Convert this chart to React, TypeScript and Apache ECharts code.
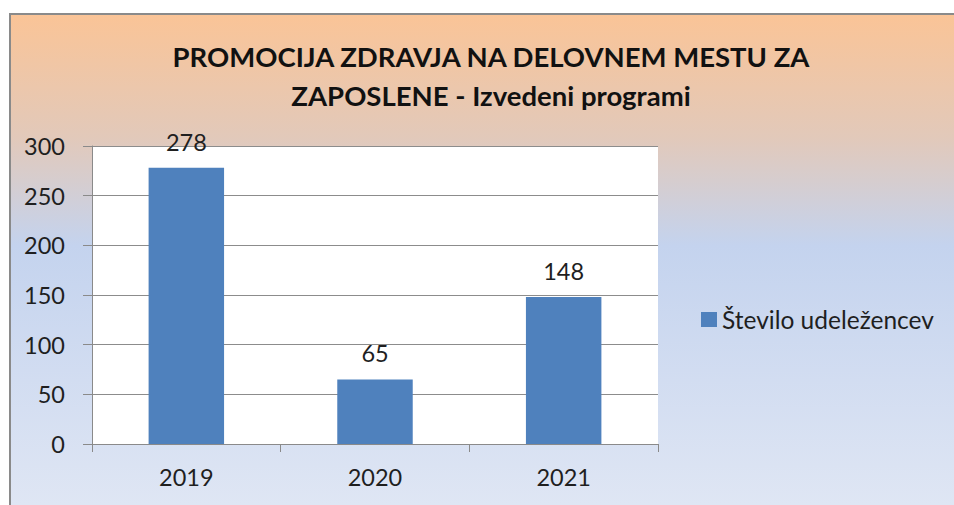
import React, { useEffect, useRef } from "react";
import * as echarts from "echarts";

const titleLines = ["PROMOCIJA ZDRAVJA NA DELOVNEM MESTU ZA", "ZAPOSLENE - Izvedeni programi"];
const categories = ["2019", "2020", "2021"];
const seriesName = "Število udeležencev";
const values = [278, 65, 148];
const yTicks = { min: 0, max: 300, interval: 50 };

export default function App() {
  const ref = useRef<HTMLDivElement>(null);
  useEffect(() => {
    if (!ref.current) return;
    const chart = echarts.init(ref.current, null, { renderer: "svg" });
    const font = "Lato, 'Open Sans', sans-serif";
    chart.setOption({
      animation: false,
      backgroundColor: new echarts.graphic.LinearGradient(0, 0, 0, 1, [
        { offset: 0, color: "#FAC497" },
        { offset: 0.25, color: "#E2C9BA" },
        { offset: 0.47, color: "#C4D3EE" },
        { offset: 1, color: "#DFE6F4" },
      ]),
      textStyle: { fontFamily: font, color: "#1f1f1f" },
      title: {
        text: titleLines.join("\n"),
        left: 475,
        top: 17,
        textAlign: "center",
        textStyle: {
          fontFamily: font,
          fontWeight: "bold",
          fontSize: 27.5,
          lineHeight: 39,
          color: "#111",
        },
      },
      legend: {
        show: true,
        left: 685,
        top: 287,
        icon: "rect",
        itemWidth: 16,
        itemHeight: 15,
        textStyle: { fontFamily: font, fontSize: 24.5, color: "#1f1f1f" },
        data: [seriesName],
      },
      grid: {
        left: 81,
        top: 131,
        width: 566,
        height: 298,
        show: true,
        backgroundColor: "#ffffff",
        borderWidth: 0,
      },
      xAxis: {
        type: "category",
        data: categories,
        boundaryGap: true,
        axisLine: { show: true, lineStyle: { color: "#8a8a8a", width: 1 } },
        axisTick: { show: true, alignWithLabel: false, length: 8, lineStyle: { color: "#8a8a8a" } },
        axisLabel: { fontFamily: font, fontSize: 23.5, color: "#1f1f1f", margin: 21 },
      },
      yAxis: {
        type: "value",
        min: yTicks.min,
        max: yTicks.max,
        interval: yTicks.interval,
        axisLine: { show: true, lineStyle: { color: "#8a8a8a", width: 1 } },
        axisTick: { show: true, length: 9, lineStyle: { color: "#8a8a8a" } },
        axisLabel: { fontFamily: font, fontSize: 23.5, color: "#1f1f1f", margin: 27 },
        splitLine: { show: true, lineStyle: { color: "#8c8c8c", width: 1 } },
      },
      series: [
        {
          name: seriesName,
          type: "bar",
          data: values,
          barCategoryGap: "60%",
          itemStyle: { color: "#4F81BD" },
          label: {
            show: true,
            position: "top",
            distance: 14,
            fontFamily: font,
            fontSize: 23.5,
            color: "#1f1f1f",
          },
        },
      ],
    });
    return () => chart.dispose();
  }, []);

  return (
    <div style={{ position: "fixed", left: 0, top: 0, width: 954, height: 505, background: "#fff", overflow: "hidden" }}>
      <div
        style={{
          position: "absolute",
          left: 9,
          top: 13,
          width: 960,
          height: 510,
          borderLeft: "2px solid #8a8a8a",
          borderTop: "2px solid #8a8a8a",
        }}
      >
        <div ref={ref} style={{ width: 943, height: 490 }} />
      </div>
    </div>
  );
}
